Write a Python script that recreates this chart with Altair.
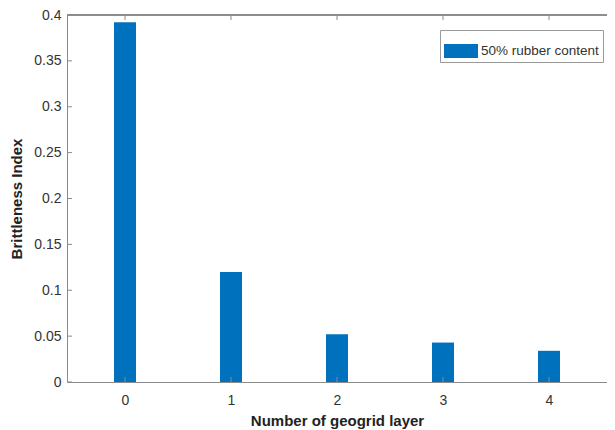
import altair as alt
import pandas as pd

layers = [0, 1, 2, 3, 4]
brittleness = [0.392, 0.120, 0.052, 0.043, 0.034]
series_name = "50% rubber content"
y_ticks = [0, 0.05, 0.1, 0.15, 0.2, 0.25, 0.3, 0.35, 0.4]
x_ticks = [0, 1, 2, 3, 4]

W, H = 540, 367
FONT = "Liberation Sans"
AX = "#8a8a8a"
TXT = "#333333"

bars_df = pd.DataFrame({"layers": layers, "value": brittleness, "series": [series_name] * len(layers)})
yt_df = pd.DataFrame({"value": y_ticks})
xt_df = pd.DataFrame({"layers": x_ticks})

xscale = alt.Scale(domain=[-0.5, 4.5], nice=False, zero=False)
yscale = alt.Scale(domain=[0, 0.4], nice=False)

xaxis = alt.Axis(values=x_ticks, format="d", grid=False, tickSize=0, labelPadding=11,
                 labelFontSize=14, labelColor=TXT, labelFont=FONT, domainColor=AX,
                 titleFont=FONT, titleFontSize=15, titleFontWeight="bold", titleColor="#222222",
                 titleY=31, titleBaseline="top")
yaxis = alt.Axis(values=y_ticks, format="~g", grid=False, tickSize=0, labelPadding=6,
                 labelFontSize=14, labelColor=TXT, labelFont=FONT, domainColor=AX,
                 titleFont=FONT, titleFontSize=15, titleFontWeight="bold", titleColor="#222222",
                 titleX=-43, titleBaseline="bottom")

def X(field="layers"):
    return alt.X(f"{field}:Q", scale=xscale, axis=xaxis, title="Number of geogrid layer")

def Y(field="value"):
    return alt.Y(f"{field}:Q", scale=yscale, axis=yaxis, title="Brittleness Index")

bars = alt.Chart(bars_df).mark_bar(width=22, color="#0072BD").encode(
    x=X(), y=Y(),
    color=alt.Color("series:N", scale=alt.Scale(range=["#0072BD"]),
                    legend=alt.Legend(title=None, orient="none", legendX=373, legendY=15,
                                      symbolType="M-1,-0.41H1V0.41H-1Z", symbolSize=1156,
                                      symbolStrokeWidth=0, symbolOpacity=1,
                                      labelFont=FONT, labelFontSize=13.5, labelColor=TXT,
                                      labelOffset=3, padding=4, strokeColor="#9a9a9a",
                                      fillColor="white"))
)

top_border = alt.Chart(xt_df).mark_rule(color=AX, strokeWidth=1).encode(
    x=alt.value(0), x2=alt.value(W), y=alt.value(0)
)

left_ticks = alt.Chart(yt_df).mark_rule(color=AX, strokeWidth=1).encode(
    y=Y(), x=alt.value(0), x2=alt.value(5)
)
top_ticks = alt.Chart(xt_df).mark_rule(color=AX, strokeWidth=1).encode(
    x=X(), y=alt.value(0), y2=alt.value(5)
)
bottom_ticks = alt.Chart(xt_df).mark_rule(color=AX, strokeWidth=1).encode(
    x=X(), y=alt.value(H), y2=alt.value(H - 5)
)

chart = alt.layer(bars, top_border, left_ticks, top_ticks, bottom_ticks).properties(
    width=W, height=H,
    autosize=alt.AutoSizeParams(type="none"),
    padding={"left": 59, "top": 7, "right": 0, "bottom": 48},
    background="white",
).configure_view(stroke=None)

chart.save("out.html", embed_options={"renderer": "svg", "actions": False})
